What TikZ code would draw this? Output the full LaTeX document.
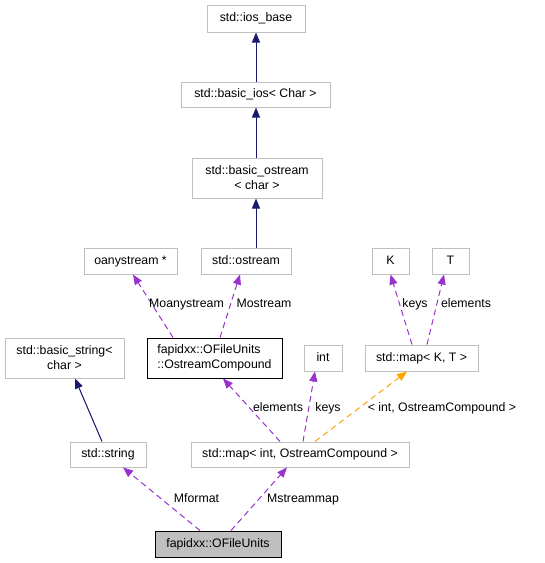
\documentclass[tikz,border=0pt]{standalone}
\usepackage{fontspec}
\setmainfont{Liberation Sans}
\usetikzlibrary{arrows.meta}
\definecolor{boxgray}{HTML}{BFBFBF}
\definecolor{fillgray}{HTML}{BFBFBF}
\definecolor{dpurple}{HTML}{9A32CD}
\definecolor{dnavy}{HTML}{191970}
\definecolor{dorange}{HTML}{FFA500}
\begin{document}
\begin{tikzpicture}[x=1pt,y=-1pt,
  font=\fontsize{12.3}{15}\selectfont,
  cls/.style={draw=boxgray,line width=1pt,fill=white,inner sep=0pt},
  one/.style={cls,text height=9pt,text depth=2.5pt},
  two/.style={cls,align=center},
  lbl/.style={inner sep=0pt,anchor=center,text height=9pt,text depth=2.5pt},
  inh/.style={draw=dnavy,line width=1pt,-{Triangle[length=10pt,width=8pt]},fill=dnavy},
  use/.style={draw=dpurple,line width=1pt,dash pattern=on 6pt off 4pt,-{Triangle[length=10pt,width=8pt]}},
  tpl/.style={draw=dorange,line width=1pt,dash pattern=on 6pt off 4pt,-{Triangle[length=10pt,width=8pt]}}]
\useasboundingbox (0,0) rectangle (545,563);
\node[one,minimum width=98pt,minimum height=27pt] (iosbase) at (256,18.5) {std::ios\_base};
\node[one,minimum width=149pt,minimum height=25pt] (basicios) at (255.5,94.5) {std::basic\_ios\textless{} Char \textgreater};
\node[two,minimum width=130pt,minimum height=40pt] (basicostream) at (257,178) {std::basic\_ostream\\\textless{} char \textgreater};
\node[one,minimum width=93pt,minimum height=26pt] (oany) at (130.5,261) {oanystream *};
\node[one,minimum width=90pt,minimum height=26pt] (ostream) at (246,261) {std::ostream};
\node[one,minimum width=37pt,minimum height=26pt] (K) at (390.5,261) {K};
\node[one,minimum width=37pt,minimum height=26pt] (T) at (450.5,261) {T};
\node[two,minimum width=119pt,minimum height=40pt] (bstring) at (64.5,358) {std::basic\_string\textless\\char \textgreater};
\node[two,draw=black,minimum width=135pt,minimum height=40pt,align=left] (oc) at (214.5,358) {fapidxx::OFileUnits\\::OstreamCompound};
\node[one,minimum width=38pt,minimum height=26pt] (int) at (323,358) {int};
\node[one,minimum width=113pt,minimum height=26pt] (mapKT) at (421.5,358) {std::map\textless{} K, T \textgreater};
\node[one,minimum width=76pt,minimum height=25pt] (string) at (108,454.5) {std::string};
\node[one,minimum width=218pt,minimum height=25pt] (mapint) at (300,454.5) {std::map\textless{} int, OstreamCompound \textgreater};
\node[one,draw=black,fill=fillgray,minimum width=126pt,minimum height=26pt] (ofu) at (218,544) {fapidxx::OFileUnits};

\draw[inh] (basicios.north -| iosbase.south) -- (iosbase.south);
\draw[inh] ([xshift=0.5pt]basicios.south |- basicostream.north) -- ([xshift=0.5pt]basicios.south);
\draw[inh] ([xshift=10pt]ostream.north) -- ([xshift=-1pt]basicostream.south);
\draw[inh] ([xshift=-6pt]string.north) -- ([xshift=10.5pt]bstring.south);

\draw[use] ([xshift=-18pt]ofu.north) -- ([xshift=15pt]string.south);
\draw[use] ([xshift=13pt]ofu.north) -- ([xshift=-13pt]mapint.south);
\draw[use] ([xshift=-20pt]mapint.north) -- ([xshift=8.5pt]oc.south);
\draw[use] ([xshift=3pt]mapint.north) -- ([xshift=-8pt]int.south);
\draw[tpl] ([xshift=15pt]mapint.north) -- ([xshift=-14.5pt]mapKT.south);
\draw[use] ([xshift=-41.5pt]oc.north) -- ([xshift=2.5pt]oany.south);
\draw[use] ([xshift=5.5pt]oc.north) -- ([xshift=-6pt]ostream.south);
\draw[use] ([xshift=-9.5pt]mapKT.north) -- (K.south);
\draw[use] ([xshift=5.5pt]mapKT.north) -- ([xshift=-6.5pt]T.south);

\node[lbl] (lmformat) at (196.5,499) {Mformat};
\node[lbl] (lmstreammap) at (303,499) {Mstreammap};
\node[lbl] (lelements1) at (278,408) {elements};
\node[lbl] (lkeys1) at (328,408) {keys};
\node[lbl] (ltpl) at (442,408) {\textless{} int, OstreamCompound \textgreater};
\node[lbl] (lmoany) at (186.5,304) {Moanystream};
\node[lbl] (lmostream) at (264,304) {Mostream};
\node[lbl] (lkeys2) at (415,304) {keys};
\node[lbl] (lelements2) at (466,304) {elements};
\end{tikzpicture}
\end{document}
